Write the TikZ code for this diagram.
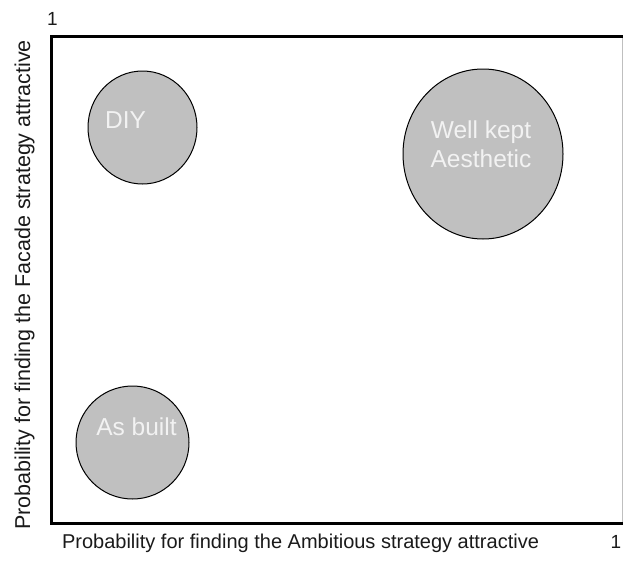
\documentclass[tikz,border=0pt]{standalone}
\usepackage{fontspec}
\setmainfont{Liberation Sans}
\definecolor{bubble}{HTML}{C0C0C0}
\definecolor{bubbletext}{HTML}{F2F2F2}
\definecolor{axistext}{HTML}{1A1A1A}
\begin{document}
\begin{tikzpicture}[x=1pt,y=-1pt,
  bubblestyle/.style={draw=black,line width=1pt,fill=bubble,inner sep=0pt},
  bubblelabel/.style={text=bubbletext,font=\fontsize{24.5}{29}\selectfont,inner sep=0pt,align=center},
  axislabel/.style={text=axistext,font=\fontsize{20}{23}\selectfont,inner sep=0pt}]
\useasboundingbox (0,0) rectangle (623,562);
% frame
\draw[line width=3pt,line join=miter] (626,36.5) -- (51.5,36.5) -- (51.5,523.5) -- (626,523.5);
\draw[line width=1pt,draw=black!25] (622,38) -- (622,522);
% bubbles
\draw[bubblestyle] (142.5,127.5) ellipse [x radius=54.5pt,y radius=56.5pt];
\draw[bubblestyle] (483,154) ellipse [x radius=80pt,y radius=85pt];
\draw[bubblestyle] (132.5,442.5) ellipse [x radius=56.5pt,y radius=56.5pt];
\node[bubblelabel,anchor=base] (diy) at (125.5,128) {DIY};
\node[bubblelabel,anchor=base] (wk1) at (481,138) {Well kept};
\node[bubblelabel,anchor=base] (wk2) at (481,167) {Aesthetic};
\node[bubblelabel,anchor=base] (asb) at (136.5,435) {As built};
% axis labels
\node[axislabel,anchor=base] (xlab) at (300.5,548) {Probability for finding the Ambitious strategy attractive};
\node[axislabel,anchor=base,font=\fontsize{21.5}{24}\selectfont,rotate=90] (ylab) at (30,285) {Probability for finding the Facade strategy attractive};
\node[axislabel,anchor=base,font=\fontsize{19}{22}\selectfont] (one1) at (52.5,25) {1};
\node[axislabel,anchor=base,font=\fontsize{19}{22}\selectfont] (one2) at (616,548) {1};
\end{tikzpicture}
\end{document}
